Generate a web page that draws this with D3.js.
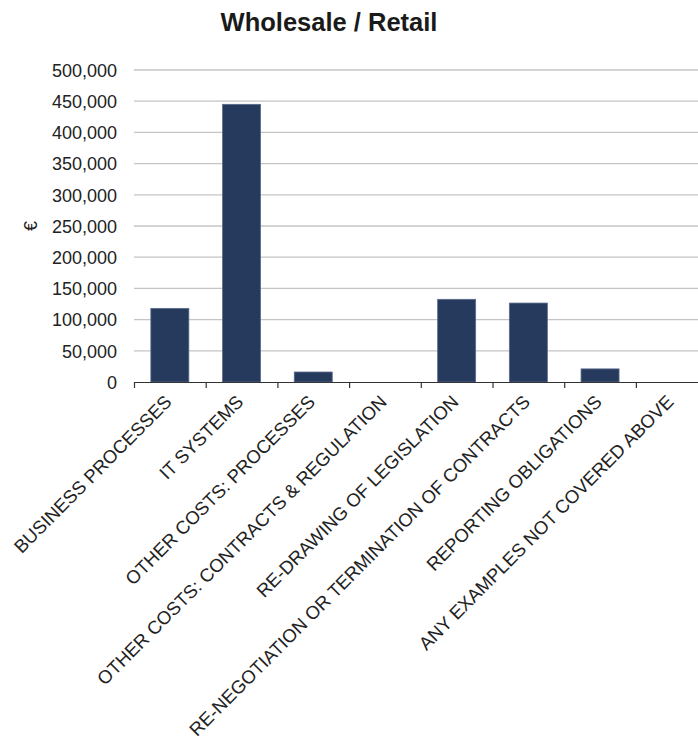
<!DOCTYPE html>
<html>
<head>
<meta charset="utf-8">
<script src="https://cdn.jsdelivr.net/npm/d3@7"></script>
<style>
  html, body { margin: 0; padding: 0; background: #fff; }
  svg { display: block; font-family: "Liberation Sans", Arial, Helvetica, sans-serif; }
</style>
</head>
<body>
<svg id="chart" width="698" height="743"></svg>
<script>
const title = "Wholesale / Retail";
const yLabel = "€";
const categories = [
  "BUSINESS PROCESSES",
  "IT SYSTEMS",
  "OTHER COSTS: PROCESSES",
  "OTHER COSTS: CONTRACTS & REGULATION",
  "RE-DRAWING OF LEGISLATION",
  "RE-NEGOTIATION OR TERMINATION OF CONTRACTS",
  "REPORTING OBLIGATIONS",
  "ANY EXAMPLES NOT COVERED ABOVE"
];
const values = [118000, 445000, 16000, 0, 132500, 126500, 21000, 0];
const yTicks = [0, 50000, 100000, 150000, 200000, 250000, 300000, 350000, 400000, 450000, 500000];

(function draw() {
const svg = d3.select("#chart");
const W = 698;
const mLeft = 134, mTop = 70, mBottom = 382;
const plotWidth = 573.6;

const x = d3.scaleBand().domain(categories).range([mLeft, mLeft + plotWidth]).paddingInner(0.47).paddingOuter(0.235);
const xEdges = d3.scaleBand().domain(categories).range([mLeft, mLeft + plotWidth]).padding(0);
const y = d3.scaleLinear().domain([0, 500000]).range([mBottom, mTop]);

svg.append("text")
  .attr("x", 329).attr("y", 31)
  .attr("text-anchor", "middle")
  .attr("font-size", 25.5).attr("font-weight", "bold").attr("fill", "#1a1a1a")
  .text(title);

svg.append("g").selectAll("line").data(yTicks.filter(d => d > 0)).join("line")
  .attr("x1", mLeft).attr("x2", W)
  .attr("y1", d => y(d)).attr("y2", d => y(d))
  .attr("stroke", "#c4c4c4").attr("stroke-width", 1.3);

const yAxis = d3.axisLeft(y).tickValues(yTicks).tickSize(0).tickPadding(0).tickFormat(d3.format(","));
const gy = svg.append("g").attr("transform", `translate(${mLeft - 17},0)`).call(yAxis);
gy.select(".domain").remove();
gy.selectAll("text").attr("font-size", 18).attr("fill", "#222").attr("font-family", "Liberation Sans, Arial, sans-serif").attr("dy", "0.35em");

svg.append("text")
  .attr("transform", `translate(37,226) rotate(-90)`)
  .attr("text-anchor", "middle")
  .attr("font-size", 18).attr("fill", "#222")
  .text(yLabel);

svg.append("g").selectAll("rect").data(values).join("rect")
  .attr("x", (d, i) => x(categories[i]))
  .attr("width", x.bandwidth())
  .attr("y", d => y(d))
  .attr("height", d => mBottom - y(d))
  .attr("fill", "#263a5e")
  .attr("stroke", "#5b6b8b").attr("stroke-width", 0.8)
  .attr("display", d => d > 0 ? null : "none");

svg.append("line").attr("x1", mLeft).attr("x2", W).attr("y1", mBottom + 0.5).attr("y2", mBottom + 0.5)
  .attr("stroke", "#333").attr("stroke-width", 1.2);
svg.append("g").selectAll("line").data(categories).join("line")
  .attr("x1", d => xEdges(d) + 0.5).attr("x2", d => xEdges(d) + 0.5)
  .attr("y1", mBottom).attr("y2", mBottom + 6)
  .attr("stroke", "#333").attr("stroke-width", 1.2);

svg.append("g").selectAll("text").data(categories).join("text")
  .attr("transform", d => `translate(${xEdges(d) + xEdges.bandwidth() / 2 + 3},${mBottom + 21}) rotate(-45)`)
  .attr("text-anchor", "end")
  .attr("font-size", 18.5).attr("fill", "#222")
  .text(d => d);
})();
</script>
</body>
</html>
